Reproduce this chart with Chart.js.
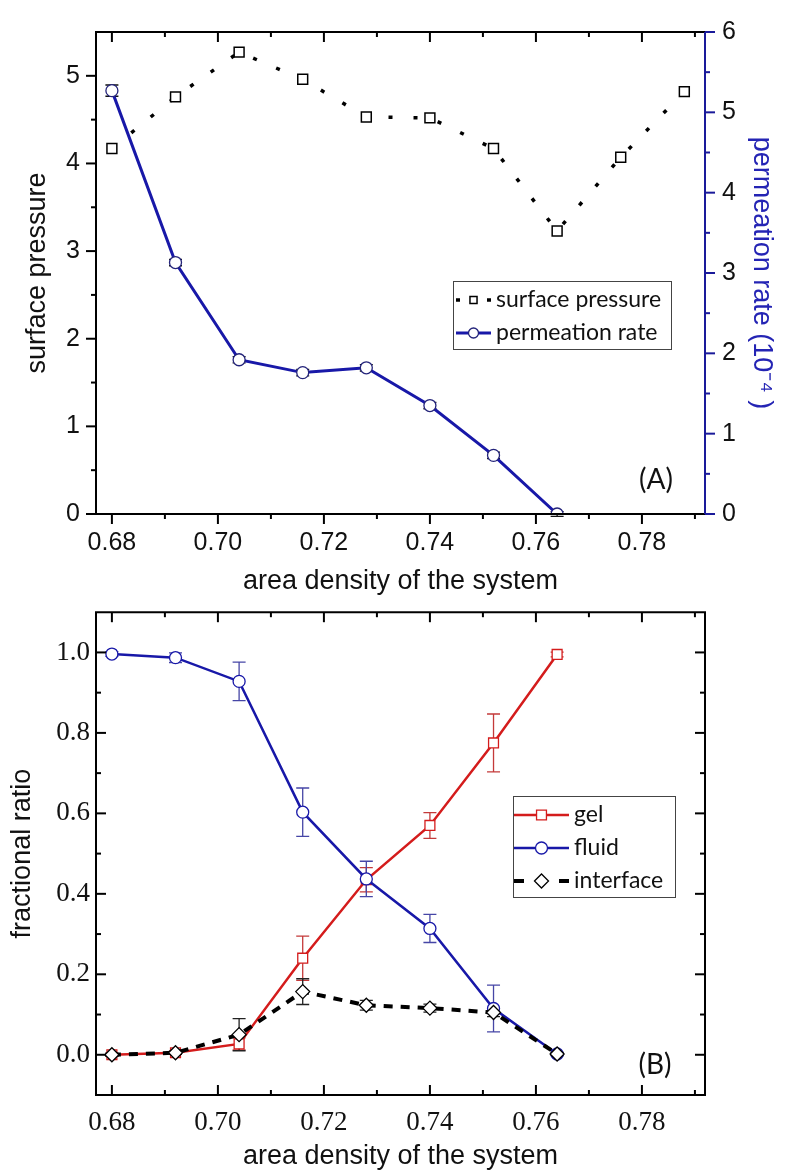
<!DOCTYPE html>
<html>
<head>
<meta charset="utf-8">
<title>area density of the system</title>
<script src="https://cdn.jsdelivr.net/npm/chart.js@4.4.1/dist/chart.umd.min.js"></script>
<style>
  body { margin: 0; background: #fff; }
  canvas { position: absolute; left: 0; }
  #bieuDoA { top: 0; }
  #bieuDoB { top: 590px; }
</style>
</head>
<body>
<canvas id="bieuDoA" width="788" height="600"></canvas>
<canvas id="bieuDoB" width="788" height="583"></canvas>
<script>
// panel A
const densityA = [0.680, 0.692, 0.704, 0.716, 0.728, 0.740, 0.752, 0.764, 0.776, 0.788];
const surfacePressure = [4.17, 4.76, 5.27, 4.96, 4.53, 4.52, 4.17, 3.23, 4.07, 4.82];
const densityRate = [0.680, 0.692, 0.704, 0.716, 0.728, 0.740, 0.752, 0.764];
const permeationRate = [5.27, 3.13, 1.92, 1.76, 1.82, 1.35, 0.73, 0.00];
const permeationErr = [0.07, 0.04, 0.04, 0.04, 0.04, 0.04, 0.04, 0.03];

// panel B
const densityB = [0.680, 0.692, 0.704, 0.716, 0.728, 0.740, 0.752, 0.764];
const gelRatio = [0.000, 0.005, 0.027, 0.240, 0.435, 0.570, 0.775, 0.995];
const gelErr = [0.004, 0.004, 0.015, 0.055, 0.030, 0.032, 0.072, 0.006];
const fluidRatio = [0.996, 0.987, 0.928, 0.603, 0.437, 0.314, 0.115, 0.002];
const fluidErr = [0.006, 0.012, 0.048, 0.060, 0.044, 0.035, 0.058, 0.004];
const interfaceRatio = [0.000, 0.005, 0.050, 0.157, 0.123, 0.116, 0.105, 0.002];
const interfaceErr = [0.004, 0.004, 0.040, 0.032, 0.012, 0.010, 0.010, 0.004];

// ticks
const xMajor = [0.68, 0.70, 0.72, 0.74, 0.76, 0.78];
const xMinor = [0.69, 0.71, 0.73, 0.75, 0.77, 0.79];
const pressureTicks = [0, 1, 2, 3, 4, 5];
const pressureMinor = [0.5, 1.5, 2.5, 3.5, 4.5];
const rateTicks = [0, 1, 2, 3, 4, 5, 6];
const rateMinor = [0.5, 1.5, 2.5, 3.5, 4.5, 5.5];
const ratioTicks = [0.0, 0.2, 0.4, 0.6, 0.8, 1.0];
const ratioMinor = [0.1, 0.3, 0.5, 0.7, 0.9];

const blue = '#1818a8';
const red = '#d41c1c';
const sans = 'Liberation Sans';
const serif = 'Liberation Serif';

Chart.defaults.animation = false;

function toPoints(xs, ys) {
    return xs.map((x, i) => ({ x: x, y: ys[i] }));
}

// frame and tick marks (out = 1, in = -1)
const axisFrame = {
    id: 'axisFrame',
    afterDatasetsDraw(chart, args, opts) {
        const { ctx, chartArea: a, scales } = chart;
        ctx.save();
        ctx.lineWidth = 2;
        opts.sides.forEach(s => {
            const scale = scales[s.scale];
            ctx.strokeStyle = s.color;
            const mark = (v, len) => {
                const p = scale.getPixelForValue(v);
                const d = len * s.dir;
                ctx.beginPath();
                if (s.side === 'bottom') { ctx.moveTo(p, a.bottom); ctx.lineTo(p, a.bottom + d); }
                if (s.side === 'top') { ctx.moveTo(p, a.top); ctx.lineTo(p, a.top - d); }
                if (s.side === 'left') { ctx.moveTo(a.left, p); ctx.lineTo(a.left - d, p); }
                if (s.side === 'right') { ctx.moveTo(a.right, p); ctx.lineTo(a.right + d, p); }
                ctx.stroke();
            };
            s.major.forEach(v => mark(v, 10));
            s.minor.forEach(v => mark(v, 5));
            ctx.beginPath();
            if (s.side === 'bottom') { ctx.moveTo(a.left - 1, a.bottom); ctx.lineTo(a.right + 1, a.bottom); }
            if (s.side === 'top') { ctx.moveTo(a.left - 1, a.top); ctx.lineTo(a.right + 1, a.top); }
            if (s.side === 'left') { ctx.moveTo(a.left, a.top); ctx.lineTo(a.left, a.bottom); }
            if (s.side === 'right') { ctx.moveTo(a.right, a.top); ctx.lineTo(a.right, a.bottom); }
            ctx.stroke();
        });
        ctx.restore();
    }
};

// vertical error bars with caps
const errorBars = {
    id: 'errorBars',
    beforeDatasetsDraw(chart) {
        const ctx = chart.ctx;
        ctx.save();
        chart.data.datasets.forEach((ds, i) => {
            if (!ds.errors) return;
            const meta = chart.getDatasetMeta(i);
            const xs = chart.scales[meta.xAxisID];
            const ys = chart.scales[meta.yAxisID];
            ctx.strokeStyle = ds.errorColor;
            ctx.lineWidth = 1.3;
            ds.data.forEach((pt, j) => {
                const x = xs.getPixelForValue(pt.x);
                const top = ys.getPixelForValue(pt.y + ds.errors[j]);
                const bot = ys.getPixelForValue(pt.y - ds.errors[j]);
                ctx.beginPath();
                ctx.moveTo(x, top); ctx.lineTo(x, bot);
                ctx.moveTo(x - 6.5, top); ctx.lineTo(x + 6.5, top);
                ctx.moveTo(x - 6.5, bot); ctx.lineTo(x + 6.5, bot);
                ctx.stroke();
            });
        });
        ctx.restore();
    }
};

// boxed legend with line + marker, and the panel letter
const boxLegend = {
    id: 'boxLegend',
    afterDraw(chart, args, opts) {
        const ctx = chart.ctx;
        ctx.save();
        ctx.fillStyle = '#fff';
        ctx.fillRect(opts.left, opts.top, opts.width, opts.height);
        ctx.strokeStyle = '#444';
        ctx.lineWidth = 1;
        ctx.strokeRect(opts.left + 0.5, opts.top + 0.5, opts.width, opts.height);
        ctx.font = opts.font;
        ctx.textBaseline = 'middle';
        chart.data.datasets.forEach((ds, i) => {
            const y = opts.top + opts.firstRow + i * opts.rowGap;
            const x0 = opts.left + opts.lineStart;
            const x1 = x0 + opts.lineLength;
            ctx.strokeStyle = ds.borderColor;
            ctx.lineWidth = ds.borderWidth;
            ctx.setLineDash(ds.legendDash || []);
            ctx.beginPath();
            ctx.moveTo(x0, y); ctx.lineTo(x1, y);
            ctx.stroke();
            ctx.setLineDash([]);
            ctx.fillStyle = '#fff';
            ctx.strokeStyle = ds.pointBorderColor;
            ctx.lineWidth = ds.pointBorderWidth;
            Chart.helpers.drawPoint(ctx, {
                pointStyle: ds.pointStyle,
                radius: ds.legendRadius || ds.pointRadius,
                rotation: 0,
                borderWidth: ds.pointBorderWidth
            }, (x0 + x1) / 2, y);
            ctx.fillStyle = '#111';
            ctx.textAlign = 'left';
            ctx.fillText(ds.label, x1 + opts.textGap, y);
        });
        ctx.font = opts.panelFont;
        ctx.textAlign = 'center';
        ctx.fillStyle = '#111';
        ctx.fillText(opts.panel, opts.panelX, opts.panelY);
        ctx.restore();
    }
};

function xAxis(tickFont, padding, height, titlePad) {
    return {
        type: 'linear',
        min: 0.677,
        max: 0.7919,
        afterBuildTicks: s => { s.ticks = xMajor.map(v => ({ value: v })); },
        afterFit: s => { s.height = height; },
        grid: { display: false, drawTicks: false },
        border: { display: false },
        ticks: {
            autoSkip: false, maxRotation: 0, padding: padding,
            color: '#111', font: tickFont,
            callback: v => v.toFixed(2)
        },
        title: {
            display: true, text: 'area density of the system', color: '#111',
            font: { family: sans, size: 27, lineHeight: 1.2 },
            padding: { top: 0, bottom: titlePad }
        }
    };
}

// ---------- (A) ----------
const ctxA = document.getElementById('bieuDoA').getContext('2d');
new Chart(ctxA, {
    type: 'line',
    data: {
        datasets: [{
            label: 'surface pressure',
            data: toPoints(densityA, surfacePressure),
            yAxisID: 'y',
            borderColor: '#000',
            borderWidth: 3.5,
            borderDash: [4, 21],
            legendDash: [4, 11.5],
            pointStyle: 'rect',
            pointRadius: 7,
            legendRadius: 5,
            pointBorderColor: '#000',
            pointBackgroundColor: '#fff',
            pointBorderWidth: 1.5,
            tension: 0
        }, {
            label: 'permeation rate',
            data: toPoints(densityRate, permeationRate),
            yAxisID: 'y2',
            borderColor: blue,
            borderWidth: 3,
            pointStyle: 'circle',
            pointRadius: 6,
            legendRadius: 5,
            pointBorderColor: '#23237a',
            pointBackgroundColor: '#fff',
            pointBorderWidth: 1.3,
            errors: permeationErr,
            errorColor: '#111',
            tension: 0
        }]
    },
    options: {
        responsive: false,
        layout: { padding: { top: 19, left: 0, right: 0, bottom: 0 } },
        plugins: {
            legend: { display: false },
            tooltip: { enabled: false },
            axisFrame: {
                sides: [
                    { side: 'bottom', scale: 'x', major: xMajor, minor: xMinor, dir: 1, color: '#000' },
                    { side: 'top', scale: 'x', major: xMajor, minor: xMinor, dir: -1, color: '#000' },
                    { side: 'left', scale: 'y', major: pressureTicks, minor: pressureMinor, dir: 1, color: '#000' },
                    { side: 'right', scale: 'y2', major: rateTicks, minor: rateMinor, dir: 1, color: '#1a1a9a' }
                ]
            },
            boxLegend: {
                left: 453, top: 281, width: 218, height: 68,
                firstRow: 19, rowGap: 33, lineStart: 3, lineLength: 35, textGap: 5,
                font: '23px Lato',
                panel: '(A)', panelX: 656, panelY: 480, panelFont: '28px Lato'
            }
        },
        scales: {
            x: xAxis({ family: sans, size: 25 }, 14, 86, 2),
            y: {
                position: 'left',
                min: 0, max: 5.5,
                afterBuildTicks: s => { s.ticks = pressureTicks.map(v => ({ value: v })); },
                afterFit: s => { s.width = 96; },
                grid: { display: false, drawTicks: false },
                border: { display: false },
                ticks: { padding: 16, color: '#111', font: { family: sans, size: 25 } },
                title: {
                    display: true, text: 'surface pressure', color: '#111',
                    font: { family: sans, size: 27, lineHeight: 1.2 },
                    padding: { top: 21, bottom: 0 }
                }
            },
            y2: {
                position: 'right',
                min: 0, max: 6,
                afterBuildTicks: s => { s.ticks = rateTicks.map(v => ({ value: v })); },
                afterFit: s => { s.width = 83; },
                grid: { display: false, drawTicks: false },
                border: { display: false },
                ticks: { padding: 17, color: '#111', font: { family: sans, size: 25 } },
                title: {
                    display: true, text: 'permeation rate (10⁻⁴ )', color: '#2424b4',
                    font: { family: sans, size: 27, lineHeight: 1.2 },
                    padding: { top: 10, bottom: 0 }
                }
            }
        }
    },
    plugins: [errorBars, axisFrame, boxLegend]
});

// ---------- (B) ----------
const ctxB = document.getElementById('bieuDoB').getContext('2d');
new Chart(ctxB, {
    type: 'line',
    data: {
        datasets: [{
            label: 'gel',
            data: toPoints(densityB, gelRatio),
            order: 3,
            borderColor: red,
            borderWidth: 2.5,
            pointStyle: 'rect',
            pointRadius: 7,
            pointBorderColor: red,
            pointBackgroundColor: '#fff',
            pointBorderWidth: 1.3,
            errors: gelErr,
            errorColor: '#c43a3a',
            tension: 0
        }, {
            label: 'fluid',
            data: toPoints(densityB, fluidRatio),
            order: 2,
            borderColor: blue,
            borderWidth: 2.5,
            pointStyle: 'circle',
            pointRadius: 6,
            pointBorderColor: blue,
            pointBackgroundColor: '#fff',
            pointBorderWidth: 1.3,
            errors: fluidErr,
            errorColor: '#4646a6',
            tension: 0
        }, {
            label: 'interface',
            data: toPoints(densityB, interfaceRatio),
            order: 1,
            borderColor: '#000',
            borderWidth: 4,
            borderDash: [9, 8],
            legendDash: [10, 35],
            pointStyle: 'rectRot',
            pointRadius: 7,
            pointBorderColor: '#000',
            pointBackgroundColor: '#fff',
            pointBorderWidth: 1.3,
            errors: interfaceErr,
            errorColor: '#222',
            tension: 0
        }]
    },
    options: {
        responsive: false,
        layout: { padding: { top: 14, left: 0, right: 83, bottom: 0 } },
        plugins: {
            legend: { display: false },
            tooltip: { enabled: false },
            axisFrame: {
                sides: [
                    { side: 'bottom', scale: 'x', major: xMajor, minor: xMinor, dir: -1, color: '#000' },
                    { side: 'top', scale: 'x', major: xMajor, minor: xMinor, dir: -1, color: '#000' },
                    { side: 'left', scale: 'y', major: ratioTicks, minor: ratioMinor, dir: -1, color: '#000' },
                    { side: 'right', scale: 'y', major: ratioTicks, minor: ratioMinor, dir: -1, color: '#000' }
                ]
            },
            boxLegend: {
                left: 513, top: 206, width: 162, height: 101,
                firstRow: 19, rowGap: 33, lineStart: 1, lineLength: 55, textGap: 5,
                font: '23px Lato',
                panel: '(B)', panelX: 655, panelY: 475, panelFont: '28px Lato'
            }
        },
        scales: {
            x: xAxis({ family: serif, size: 27 }, 12, 78, 0),
            y: {
                position: 'left',
                min: -0.1, max: 1.1,
                afterBuildTicks: s => { s.ticks = ratioTicks.map(v => ({ value: v })); },
                afterFit: s => { s.width = 96; },
                grid: { display: false, drawTicks: false },
                border: { display: false },
                ticks: {
                    padding: 6, color: '#111', font: { family: serif, size: 27 },
                    callback: v => v.toFixed(1)
                },
                title: {
                    display: true, text: 'fractional ratio', color: '#111',
                    font: { family: sans, size: 27, lineHeight: 1.2 },
                    padding: { top: 6, bottom: 0 }
                }
            }
        }
    },
    plugins: [errorBars, axisFrame, boxLegend]
});
</script>
</body>
</html>
